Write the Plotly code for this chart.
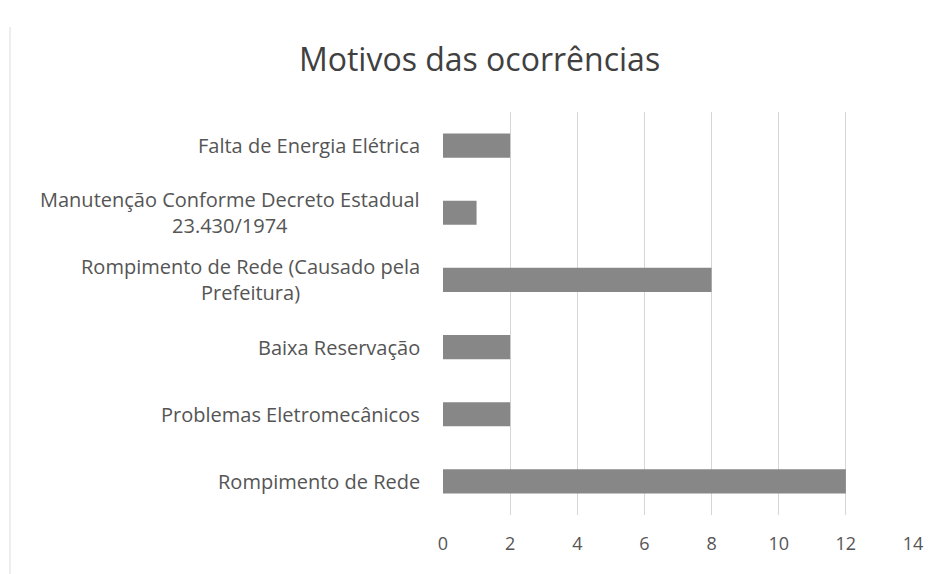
import plotly.graph_objects as go

categories = [
    "Falta de Energia Elétrica",
    "Manutenção Conforme Decreto Estadual<br>23.430/1974",
    "Rompimento de Rede (Causado pela<br>Prefeitura)",
    "Baixa Reservação",
    "Problemas Eletromecânicos",
    "Rompimento de Rede",
]
values = [2, 1, 8, 2, 2, 12]
x_ticks = [0, 2, 4, 6, 8, 10, 12, 14]

FONT = "'Open Sans', Lato, sans-serif"

fig = go.Figure(
    go.Bar(
        y=categories,
        x=values,
        orientation="h",
        marker=dict(color="#878787", line=dict(width=0)),
    )
)

annotations = [
    dict(
        text=c, x=-0.045, xref="paper", y=c, yref="y",
        xanchor="right", yanchor="middle", align="center", showarrow=False,
        font=dict(family=FONT, size=20, color="#555555"),
    )
    for c in categories
]

# page body has an 8px margin; compensate so the plot lands where the reference has it
fig.update_layout(
    width=943, height=574,
    margin=dict(l=435, r=38, t=104, b=67),
    paper_bgcolor="white", plot_bgcolor="white",
    bargap=0.64,
    showlegend=False,
    title=dict(
        text="Motivos das ocorrências", x=0.5, xanchor="center",
        y=0.91, yanchor="middle",
        font=dict(family=FONT, size=32, color="#404040"),
    ),
    xaxis=dict(
        range=[0, 14], tickvals=x_ticks, showgrid=True, gridcolor="#d6d6d6",
        gridwidth=1, zeroline=False, showline=False, ticks="",
        tickfont=dict(family=FONT, size=18, color="#555555"),
        ticklabelstandoff=16,
    ),
    yaxis=dict(
        autorange="reversed", showticklabels=False, showgrid=False,
        zeroline=False, showline=False, ticks="",
    ),
    annotations=annotations,
    shapes=[
        dict(type="line", xref="paper", yref="paper",
             x0=(2 - 435) / 470, x1=(2 - 435) / 470, y0=-1.0, y1=1 + 85 / 403,
             line=dict(color="#dcdcdc", width=1), layer="below"),
    ],
)

fig.write_html("out.html")
